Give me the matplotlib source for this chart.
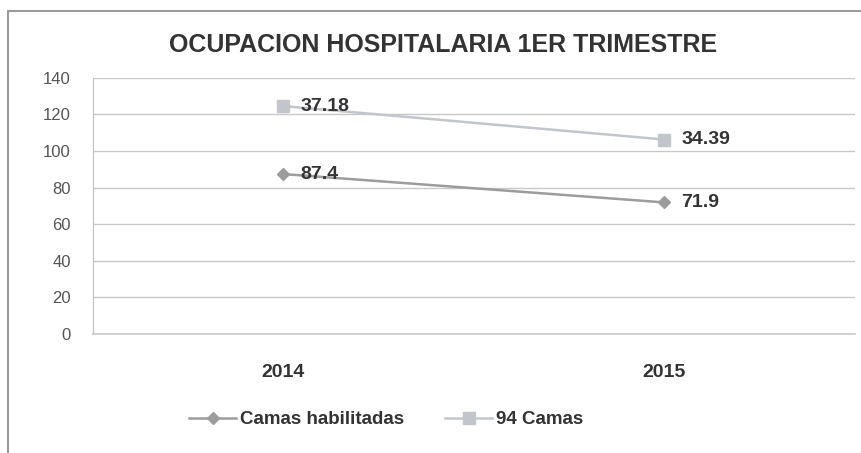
import numpy as np
import matplotlib.pyplot as plt
from matplotlib.patches import Rectangle

years = ["2014", "2015"]
camas_habilitadas = [87.4, 71.9]
camas_94 = [37.18, 34.39]
yticks = [0, 20, 40, 60, 80, 100, 120, 140]

plt.rcParams["font.family"] = ["Liberation Sans", "DejaVu Sans"]

fig = plt.figure(figsize=(8.61, 4.53), dpi=100)
fig.patch.set_facecolor("white")
ax = fig.add_axes([0.108, 0.263, 0.885, 0.565])

x = np.arange(len(years))
stacked = np.array(camas_habilitadas) + np.array(camas_94)  # linea apilada

ax.plot(x, camas_habilitadas, color="#9c9c9c", lw=1.8, marker="D", ms=6,
        mfc="#9c9c9c", mec="#9c9c9c", label="Camas habilitadas")
ax.plot(x, stacked, color="#c2c6cc", lw=1.8, marker="s", ms=9,
        mfc="#c2c6cc", mec="#c2c6cc", label="94 Camas")

for xi, yv, v in zip(x, camas_habilitadas, camas_habilitadas):
    ax.annotate(f"{v:g}", (xi, yv), xytext=(12, 0), textcoords="offset points",
                va="center", ha="left", fontsize=14, fontweight="bold", color="#333333")
for xi, yv, v in zip(x, stacked, camas_94):
    ax.annotate(f"{v:g}", (xi, yv), xytext=(12, 0), textcoords="offset points",
                va="center", ha="left", fontsize=14, fontweight="bold", color="#333333")

ax.set_xlim(-0.5, 1.5)
ax.set_ylim(0, 140)
ax.set_yticks(yticks)
ax.set_yticklabels([str(t) for t in yticks], fontsize=12, color="#555555")
ax.set_xticks(x)
ax.set_xticklabels(years, fontsize=14, fontweight="bold", color="#333333")
ax.tick_params(axis="both", length=0)
ax.tick_params(axis="x", pad=22)
ax.tick_params(axis="y", pad=16)
ax.grid(axis="y", color="#c8c8c8", lw=1)
ax.axhline(0, color="#c8c8c8", lw=1.2, clip_on=False, zorder=0)
ax.set_axisbelow(True)
for s in ["top", "right", "bottom"]:
    ax.spines[s].set_visible(False)
ax.spines["left"].set_color("#c0c0c0")

fig.text(0.515, 0.9, "OCUPACION HOSPITALARIA 1ER TRIMESTRE", ha="center", va="center",
         fontsize=18, fontweight="bold", color="#333333")

leg = ax.legend(loc="center", bbox_to_anchor=(0.385, -0.335), ncol=2, frameon=False,
                fontsize=13.5, handlelength=2.5, handletextpad=0.2, columnspacing=2.2,
                labelcolor="#333333")
for t in leg.get_texts():
    t.set_fontweight("bold")

fig.patches.append(Rectangle((0.009, -0.01), 1.0, 0.985, transform=fig.transFigure,
                             fill=False, ec="#9a9a9a", lw=1.5))

fig.savefig("out.png", dpi=100)
